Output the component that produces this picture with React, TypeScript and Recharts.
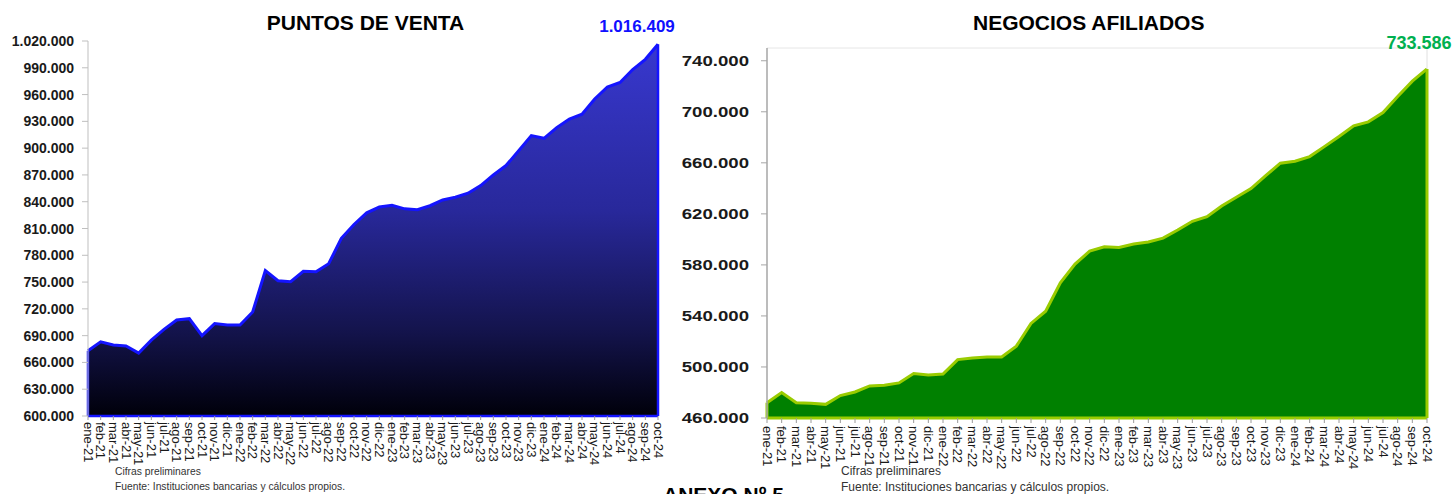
import React from 'react';
import { AreaChart, Area, XAxis, YAxis, ReferenceLine, LabelList } from 'recharts';

const months = [
  'ene-21','feb-21','mar-21','abr-21','may-21','jun-21','jul-21','ago-21','sep-21','oct-21','nov-21','dic-21',
  'ene-22','feb-22','mar-22','abr-22','may-22','jun-22','jul-22','ago-22','sep-22','oct-22','nov-22','dic-22',
  'ene-23','feb-23','mar-23','abr-23','may-23','jun-23','jul-23','ago-23','sep-23','oct-23','nov-23','dic-23',
  'ene-24','feb-24','mar-24','abr-24','may-24','jun-24','jul-24','ago-24','sep-24','oct-24',
];

const puntosVenta = [
  673000, 683000, 679500, 678500, 670500, 685000, 697000, 707500, 709000, 690000, 703500, 702000,
  702000, 716500, 763000, 751500, 750500, 762000, 761500, 770500, 799000, 814500, 827500, 834000,
  836000, 832000, 831000, 835500, 842000, 845000, 849500, 858000, 870000, 880500, 897000, 914000,
  911000, 923000, 932500, 938000, 955000, 968500, 973500, 988000, 999500, 1016409,
];

const negocios = [
  472000, 480000, 472000, 471500, 470700, 477600, 480400, 485100, 485700, 487500, 494800, 493800,
  494500, 505800, 507100, 507900, 507900, 516300, 534100, 543700, 566000, 580600, 590800, 594200,
  593700, 596300, 597900, 601000, 607300, 614200, 617800, 626200, 633000, 639800, 650000, 659700,
  661300, 664900, 672700, 680600, 689000, 692100, 699400, 712000, 724000, 733586,
];

const leftTicks = [600000, 630000, 660000, 690000, 720000, 750000, 780000, 810000, 840000, 870000, 900000, 930000, 960000, 990000, 1020000];
const rightTicks = [460000, 500000, 540000, 580000, 620000, 660000, 700000, 740000];

const leftDomain = [600000, 1020000];
const rightDomain = [460000, 750000];

const FONT = '"Liberation Sans", Arial, sans-serif';

const fmt = (n: number) => String(Math.round(n)).replace(/\B(?=(\d{3})+(?!\d))/g, '.');

const leftData = months.map((m, i) => ({ mes: m, valor: puntosVenta[i] }));
const rightData = months.map((m, i) => ({ mes: m, valor: negocios[i] }));

const XTick = (props: any) => {
  const { x, y, payload, size } = props;
  return (
    <g transform={`translate(${x},${y})`}>
      <text transform="rotate(90)" textAnchor="start" dominantBaseline="central" fontSize={size} fill="#1a1a1a" fontFamily={FONT}>
        {payload.value}
      </text>
    </g>
  );
};

const YTickLeft = (props: any) => {
  const { x, y, payload } = props;
  return (
    <text x={x} y={y} textAnchor="end" dominantBaseline="central" fontSize={14} fontWeight="bold" fill="#1a1a1a" fontFamily={FONT}>
      {fmt(payload.value)}
    </text>
  );
};

const YTickRight = (props: any) => {
  const { x, y, payload } = props;
  return (
    <text
      x={x}
      y={y}
      textAnchor="end"
      dominantBaseline="central"
      fontSize={15.5}
      fontWeight="bold"
      fill="#1a1a1a"
      fontFamily={FONT}
      transform={`translate(${x},${y}) scale(1.2,1) translate(${-x},${-y})`}
    >
      {fmt(payload.value)}
    </text>
  );
};

const lastLabel = (total: number, color: string, dx: number, dy: number, size: number) => (props: any) => {
  const { x, y, value, index } = props;
  if (index !== total - 1) return null;
  return (
    <text x={x + dx} y={y + dy} textAnchor="middle" fontSize={size} fontWeight="bold" fill={color} fontFamily={FONT}>
      {fmt(value)}
    </text>
  );
};

export default function App() {
  const n = months.length;
  return (
    <div style={{ position: 'absolute', left: 0, top: 0, width: 1455, height: 494, overflow: 'hidden', background: '#fff' }}>
      <div style={{ position: 'absolute', left: 0, top: 0 }}>
        <AreaChart width={690} height={494} data={leftData} margin={{ top: 41, right: 32, bottom: 8, left: 0 }}>
          <defs>
            <linearGradient id="blueGrad" x1="0" y1="0" x2="0" y2="1">
              <stop offset="0%" stopColor="#3838cf" />
              <stop offset="45%" stopColor="#28289a" />
              <stop offset="78%" stopColor="#13134a" />
              <stop offset="100%" stopColor="#00000a" />
            </linearGradient>
          </defs>
          <XAxis
            dataKey="mes"
            interval={0}
            height={70}
            tickSize={4}
            tickMargin={2}
            axisLine={{ stroke: '#1414ff', strokeWidth: 2.5 }}
            tickLine={{ stroke: '#9a9a9a' }}
            tick={<XTick size={13} />}
          />
          <YAxis
            width={88}
            domain={leftDomain}
            ticks={leftTicks}
            interval={0}
            tickSize={6}
            tickMargin={8}
            axisLine={{ stroke: '#bfbfbf' }}
            tickLine={{ stroke: '#bfbfbf' }}
            tick={<YTickLeft />}
          />
          <Area
            type="linear"
            dataKey="valor"
            stroke="#1414ff"
            strokeWidth={3}
            fill="url(#blueGrad)"
            fillOpacity={1}
            dot={false}
            activeDot={false}
            isAnimationActive={false}
          >
            <LabelList dataKey="valor" content={lastLabel(n, '#1010ff', -21, -12.5, 17)} />
          </Area>
          <ReferenceLine segment={[{ x: months[0], y: leftDomain[0] }, { x: months[0], y: puntosVenta[0] }]} stroke="#1414ff" strokeWidth={2.5} />
          <ReferenceLine segment={[{ x: months[n - 1], y: leftDomain[0] }, { x: months[n - 1], y: puntosVenta[n - 1] }]} stroke="#1414ff" strokeWidth={2.5} />
        </AreaChart>
      </div>

      <div style={{ position: 'absolute', left: 660, top: 0 }}>
        <AreaChart width={795} height={494} data={rightData} margin={{ top: 48, right: 28, bottom: 6, left: 0 }}>
          <ReferenceLine y={rightDomain[1]} stroke="#e6e6e6" />
          <ReferenceLine x={months[n - 1]} stroke="#e0e0e0" />
          <XAxis
            dataKey="mes"
            interval={0}
            height={70}
            tickSize={5}
            tickMargin={3}
            axisLine={{ stroke: '#99cc00', strokeWidth: 3 }}
            tickLine={{ stroke: '#9a9a9a' }}
            tick={<XTick size={13} />}
          />
          <YAxis
            width={107}
            domain={rightDomain}
            ticks={rightTicks}
            interval={0}
            tickSize={6}
            tickMargin={12}
            axisLine={{ stroke: '#a6a6a6', strokeWidth: 1.5 }}
            tickLine={{ stroke: '#a6a6a6' }}
            tick={<YTickRight />}
          />
          <Area
            type="linear"
            dataKey="valor"
            stroke="#99cc00"
            strokeWidth={3}
            fill="#008000"
            fillOpacity={1}
            dot={false}
            activeDot={false}
            isAnimationActive={false}
          >
            <LabelList dataKey="valor" content={lastLabel(n, '#00b050', -8, -20, 18)} />
          </Area>
          <ReferenceLine segment={[{ x: months[0], y: rightDomain[0] }, { x: months[0], y: negocios[0] }]} stroke="#99cc00" strokeWidth={3} />
          <ReferenceLine segment={[{ x: months[n - 1], y: rightDomain[0] }, { x: months[n - 1], y: negocios[n - 1] }]} stroke="#99cc00" strokeWidth={3} />
        </AreaChart>
      </div>

      <svg width={1455} height={494} style={{ position: 'absolute', left: 0, top: 0, pointerEvents: 'none' }}>
        <text x={365.5} y={30} textAnchor="middle" fontSize={21} fontWeight="bold" fill="#000" fontFamily={FONT}>PUNTOS DE VENTA</text>
        <text x={1088.7} y={30} textAnchor="middle" fontSize={21} fontWeight="bold" fill="#000" fontFamily={FONT}>NEGOCIOS AFILIADOS</text>
        <text x={115} y={475} fontSize={10.3} fill="#333" fontFamily={FONT}>Cifras preliminares</text>
        <text x={115} y={490} fontSize={10.3} fill="#333" fontFamily={FONT}>Fuente: Instituciones bancarias y cálculos propios.</text>
        <text x={841} y={475} fontSize={12} fill="#333" fontFamily={FONT}>Cifras preliminares</text>
        <text x={841} y={490.5} fontSize={12} fill="#333" fontFamily={FONT}>Fuente: Instituciones bancarias y cálculos propios.</text>
        <text x={663} y={502} fontSize={21} fontWeight="bold" fill="#000" fontFamily={FONT}>ANEXO Nº 5</text>
      </svg>
    </div>
  );
}
